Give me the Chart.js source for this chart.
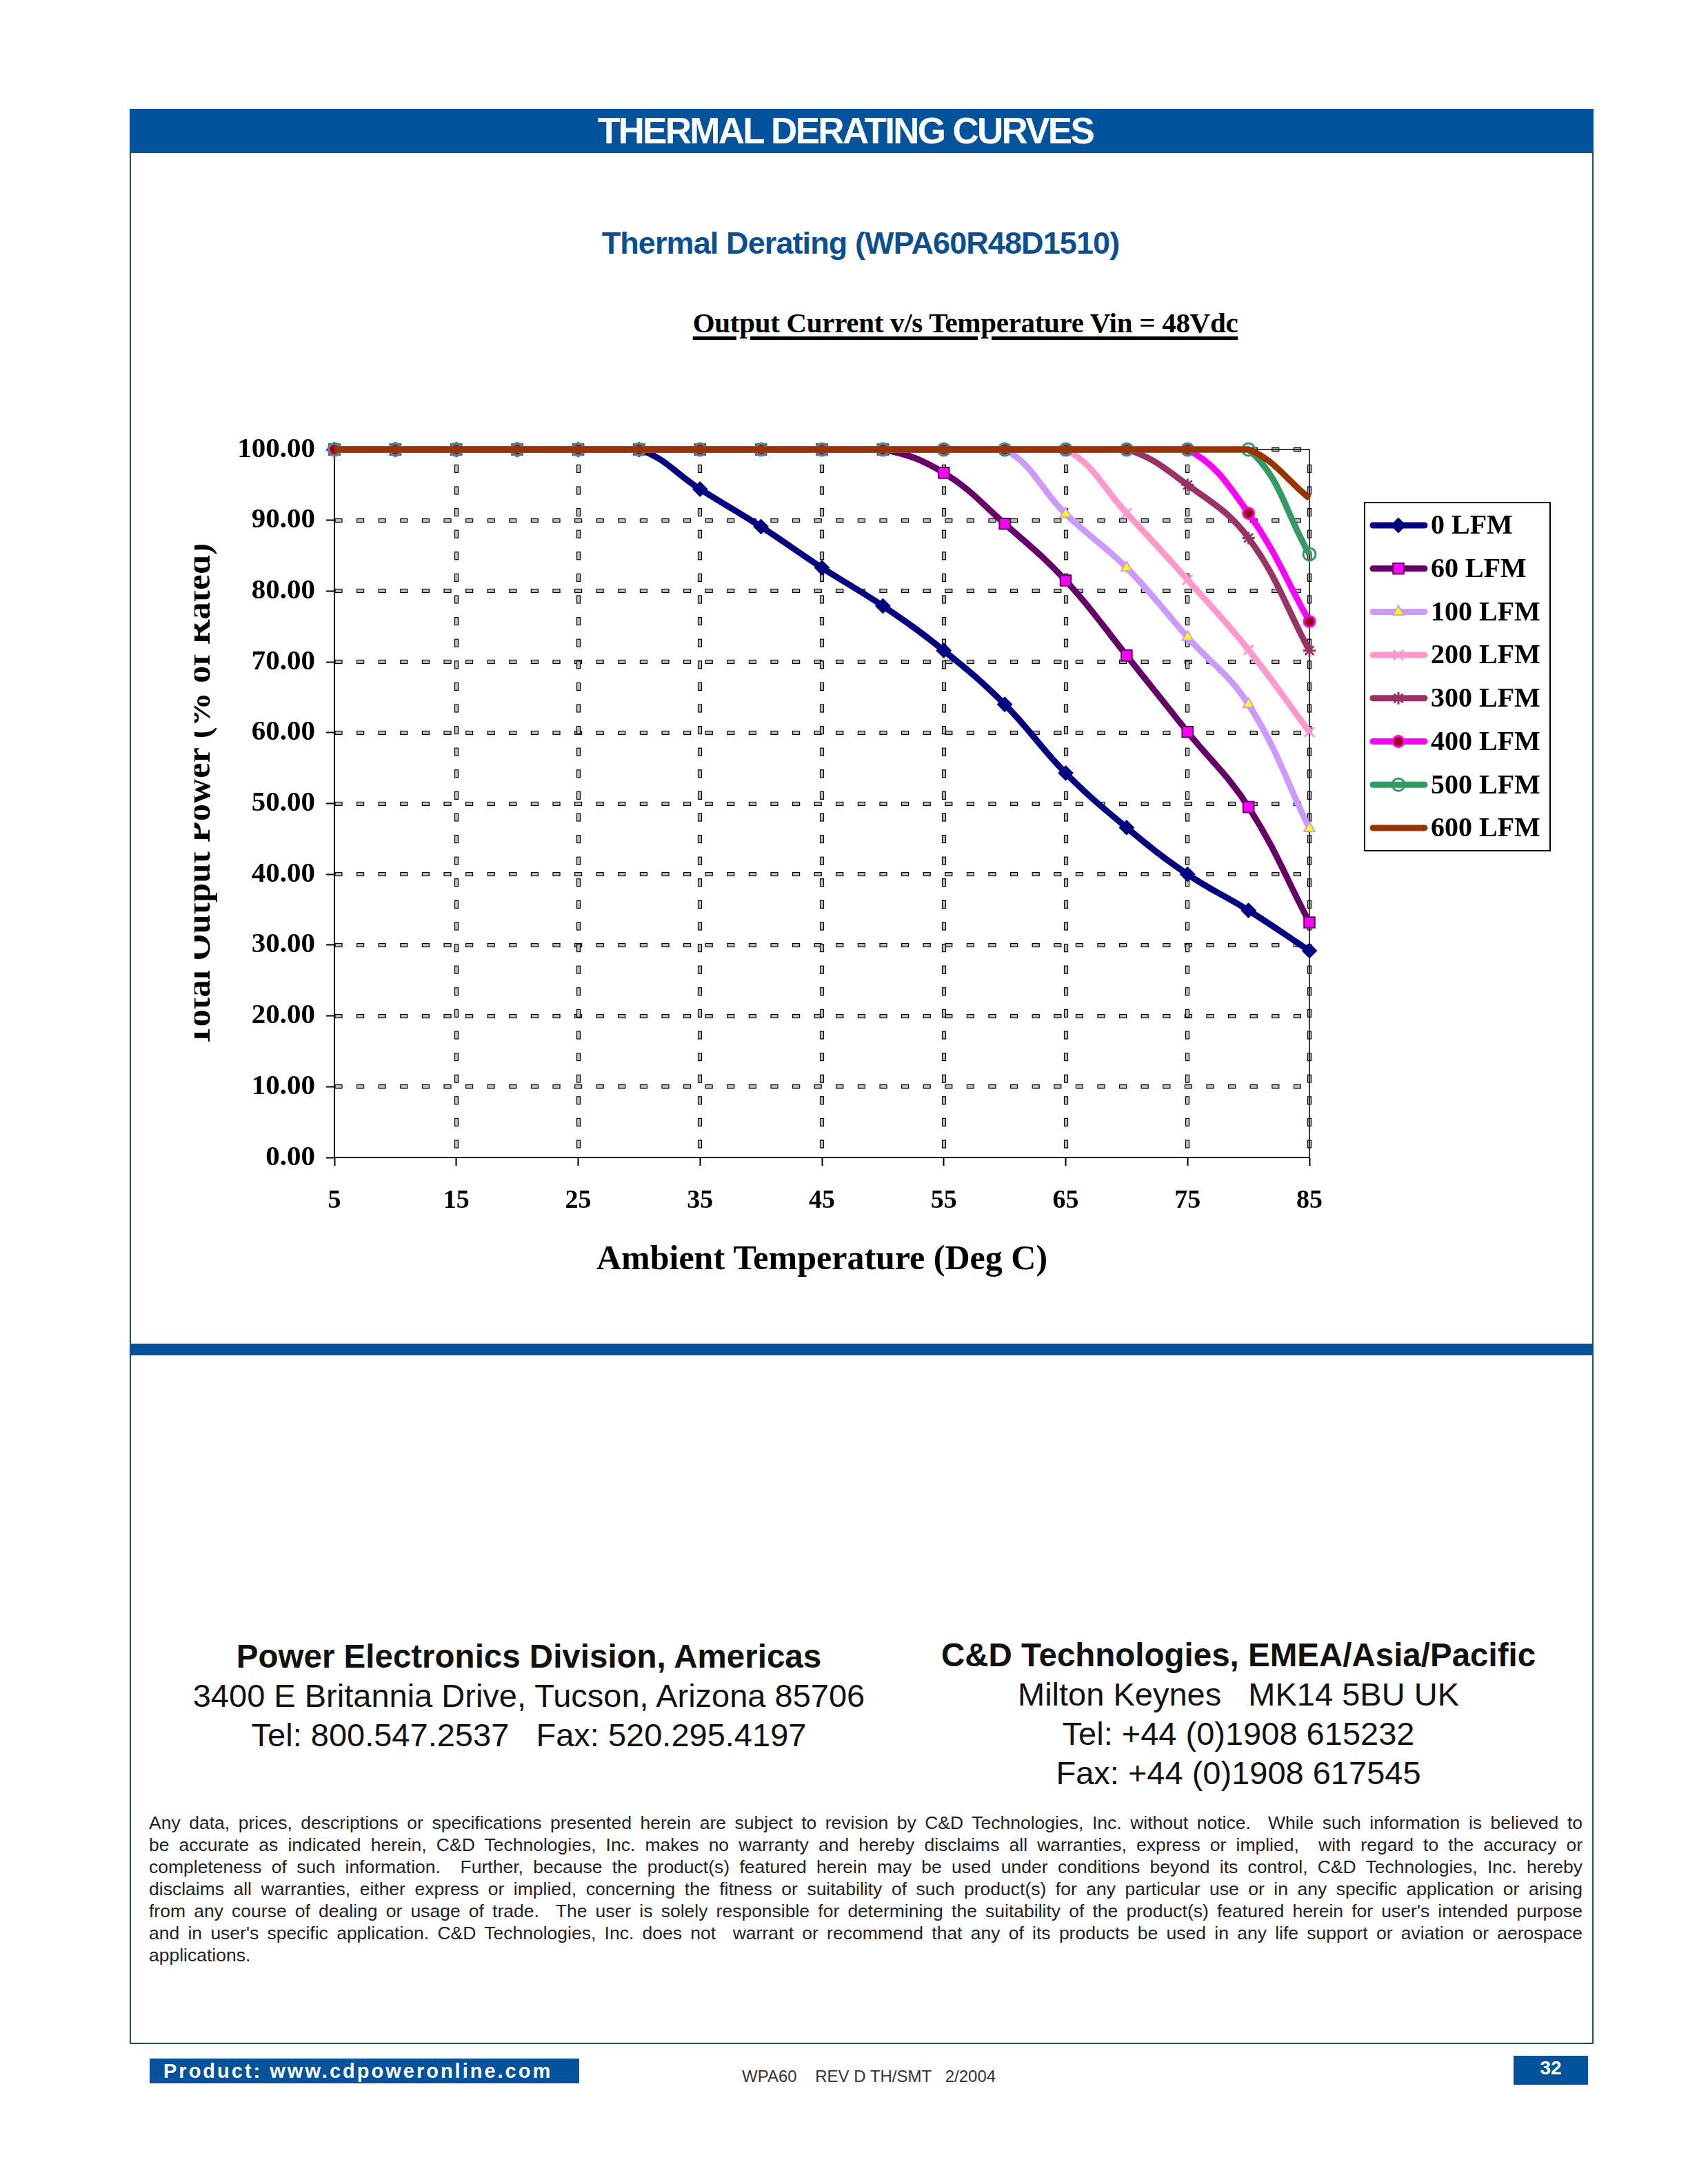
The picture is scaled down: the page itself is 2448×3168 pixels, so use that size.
<!DOCTYPE html>
<html>
<head>
<meta charset="utf-8">
<title>Thermal Derating Curves</title>
<script src="https://cdn.jsdelivr.net/npm/chart.js@4.4.1/dist/chart.umd.min.js"></script>
<style>
    html, body { margin: 0; padding: 0; background: #fff; }
    body { width: 2448px; height: 3168px; position: relative; overflow: hidden; font-family: "Liberation Sans", Arial, sans-serif; }
    .abs { position: absolute; }
    #frame { left: 188px; top: 158px; width: 2119px; height: 2803px; border: 2px solid #1d4f73; }
    #header { left: 188px; top: 158px; width: 2123px; height: 64px; background: #02529c; }
    #headerText { left: 0; width: 2452px; top: 158px; height: 64px; line-height: 64px; text-align: center; color: #fff; font-weight: bold; font-size: 53px; letter-spacing: -2.7px; }
    #subtitle { left: 0; width: 2496px; top: 323px; line-height: 60px; text-align: center; color: #0b4f93; font-weight: bold; font-size: 45px; letter-spacing: -0.9px; }
    #chartTitle { left: 0; width: 2800px; top: 440px; line-height: 56px; text-align: center; font-family: "Liberation Serif", "Times New Roman", serif; font-weight: bold; font-size: 41px; letter-spacing: -0.3px; text-decoration: underline; text-decoration-thickness: 5px; text-underline-offset: 6px; }
    #chartBox { left: 330px; top: 560px; width: 1970px; height: 1340px; }
    #yTitleClip { left: 282px; top: 700px; width: 60px; height: 900px; overflow: hidden; }
    #yTitle { left: -445px; top: 423px; width: 900px; height: 60px; line-height: 60px; text-align: center; white-space: nowrap; transform: rotate(-90deg); font-family: "Liberation Serif", "Times New Roman", serif; font-weight: bold; font-size: 50px; letter-spacing: 0.5px; }
    #sepBar { left: 190px; top: 1949px; width: 2119px; height: 17px; background: #02529c; }
    .addr { text-align: center; white-space: nowrap; color: #111; }
    .addr div { height: 57px; line-height: 57px; }
    .addr .b { font-weight: bold; font-size: 47.5px; }
    .addr .n { font-size: 47px; }
    #addrLeft { left: 267px; width: 1000px; top: 2374px; }
    #addrRight { left: 1296px; width: 1000px; top: 2372px; }
    #disclaimer { left: 216px; width: 2079px; top: 2628px; font-size: 26.5px; color: #222; }
    #disclaimer div { height: 32px; line-height: 32px; text-align: justify; text-align-last: justify; white-space: normal; }
    #disclaimer div.last { text-align-last: left; }
    #productBox { left: 217px; top: 2986px; width: 623px; height: 36px; background: #02529c; color: #fff; font-weight: bold; font-size: 29px; line-height: 36px; letter-spacing: 3px; text-indent: 20px; white-space: nowrap; }
    #rev { left: 1076px; top: 2997px; font-size: 24px; line-height: 30px; color: #333; white-space: pre; }
    #pageBox { left: 2195px; top: 2982px; width: 108px; height: 42px; background: #02529c; color: #fff; font-weight: bold; font-size: 28px; line-height: 36px; text-align: center; }
</style>
</head>
<body>
<div id="frame" class="abs"></div>
<div id="header" class="abs"></div>
<div id="headerText" class="abs">THERMAL DERATING CURVES</div>
<div id="subtitle" class="abs">Thermal Derating (WPA60R48D1510)</div>
<div id="chartTitle" class="abs">Output Current v/s Temperature Vin = 48Vdc</div>

<div id="chartBox" class="abs"><canvas id="deratingChart" width="1970" height="1340"></canvas></div>
<div id="yTitleClip" class="abs"><div id="yTitle" class="abs">Total Output Power (% of Rated)</div></div>

<div id="sepBar" class="abs"></div>

<div id="addrLeft" class="abs addr">
    <div class="b">Power Electronics Division, Americas</div>
    <div class="n">3400 E Britannia Drive, Tucson, Arizona 85706</div>
    <div class="n">Tel: 800.547.2537&nbsp;&nbsp; Fax: 520.295.4197</div>
</div>
<div id="addrRight" class="abs addr">
    <div class="b">C&amp;D Technologies, EMEA/Asia/Pacific</div>
    <div class="n">Milton Keynes&nbsp;&nbsp; MK14 5BU UK</div>
    <div class="n">Tel: +44 (0)1908 615232</div>
    <div class="n">Fax: +44 (0)1908 617545</div>
</div>

<div id="disclaimer" class="abs">
    <div>Any data, prices, descriptions or specifications presented herein are subject to revision by C&amp;D Technologies, Inc. without notice.&nbsp; While such information is believed to</div>
    <div>be accurate as indicated herein, C&amp;D Technologies, Inc. makes no warranty and hereby disclaims all warranties, express or implied,&nbsp; with regard to the accuracy or</div>
    <div>completeness of such information.&nbsp; Further, because the product(s) featured herein may be used under conditions beyond its control, C&amp;D Technologies, Inc. hereby</div>
    <div>disclaims all warranties, either express or implied, concerning the fitness or suitability of such product(s) for any particular use or in any specific application or arising</div>
    <div>from any course of dealing or usage of trade.&nbsp; The user is solely responsible for determining the suitability of the product(s) featured herein for user's intended purpose</div>
    <div>and in user's specific application. C&amp;D Technologies, Inc. does not&nbsp; warrant or recommend that any of its products be used in any life support or aviation or aerospace</div>
    <div class="last">applications.</div>
</div>

<div id="productBox" class="abs">Product: www.cdpoweronline.com</div>
<div id="rev" class="abs">WPA60    REV D TH/SMT   2/2004</div>
<div id="pageBox" class="abs">32</div>

<script>
// ambient temperature (deg C)
const temps = [5, 10, 15, 20, 25, 30, 35, 40, 45, 50, 55, 60, 65, 70, 75, 80, 85];

// total output power, % of rated, per airflow
const lfm0   = [100, 100, 100, 100, 100, 100, 94.4, 89.1, 83.3, 77.9, 71.6, 64.0, 54.3, 46.6, 40.0, 34.9, 29.2];
const lfm60  = [100, 100, 100, 100, 100, 100, 100, 100, 100, 100, 96.7, 89.5, 81.5, 70.9, 60.1, 49.5, 33.2];
const lfm100 = [100, 100, 100, 100, 100, 100, 100, 100, 100, 100, 100, 100, 90.9, 83.3, 73.5, 64.0, 46.5];
const lfm200 = [100, 100, 100, 100, 100, 100, 100, 100, 100, 100, 100, 100, 100, 91.0, 81.6, 71.7, 60.1];
const lfm300 = [100, 100, 100, 100, 100, 100, 100, 100, 100, 100, 100, 100, 100, 100, 95.0, 87.5, 71.6];
const lfm400 = [100, 100, 100, 100, 100, 100, 100, 100, 100, 100, 100, 100, 100, 100, 100, 91.0, 75.7];
const lfm500 = [100, 100, 100, 100, 100, 100, 100, 100, 100, 100, 100, 100, 100, 100, 100, 100, 85.2];
const lfm600 = [100, 100, 100, 100, 100, 100, 100, 100, 100, 100, 100, 100, 100, 100, 100, 100, 93.1];

const seriesNames = ['0 LFM', '60 LFM', '100 LFM', '200 LFM', '300 LFM', '400 LFM', '500 LFM', '600 LFM'];
const seriesValues = [lfm0, lfm60, lfm100, lfm200, lfm300, lfm400, lfm500, lfm600];

const xTicks = { min: 5, max: 85, step: 10 };
const yTicks = { min: 0, max: 100, step: 10 };

// line colour, marker style
const styles = [
    { line: '#000080', style: 'rectRot',  radius: 10, fill: '#000080', edge: '#000080', edgeWidth: 2 },
    { line: '#660066', style: 'rect',     radius: 11, fill: '#ff00ff', edge: '#660066', edgeWidth: 2 },
    { line: '#cc99ff', style: 'triangle', radius: 9,  fill: '#ffff00', edge: '#cc99ff', edgeWidth: 2 },
    { line: '#ff99cc', style: 'crossRot', radius: 10, fill: '#ff99cc', edge: '#ff99cc', edgeWidth: 3 },
    { line: '#993366', style: 'star',     radius: 9,  fill: '#993366', edge: '#993366', edgeWidth: 3 },
    { line: '#ff00ff', style: 'circle',   radius: 8,  fill: '#990000', edge: '#ff00ff', edgeWidth: 3 },
    { line: '#339966', style: 'circle',   radius: 9,  fill: 'rgba(0,0,0,0)', edge: '#339966', edgeWidth: 3 },
    { line: '#993300', style: 'circle',   radius: 0,  fill: '#993300', edge: '#993300', edgeWidth: 0 }
];

const serif = '"Liberation Serif", "Times New Roman", serif';

// dashed grid drawn as little outlined boxes like the original sheet
const dashGrid = {
    id: 'dashGrid',
    beforeDatasetsDraw(chart) {
        const { ctx, chartArea: a, scales: { x, y } } = chart;
        const period = 31.6;
        ctx.save();
        ctx.fillStyle = '#c0c0c0';
        ctx.strokeStyle = '#000';
        ctx.lineWidth = 1.2;
        y.ticks.forEach(t => {
            if (t.value === yTicks.min) return;
            const py = Math.round(y.getPixelForValue(t.value));
            for (let px = a.left + 1; px < a.right - 8; px += period) {
                ctx.fillRect(px, py - 2.5, 10, 5);
                ctx.strokeRect(px, py - 2.5, 10, 5);
            }
        });
        x.ticks.forEach(t => {
            if (t.value === xTicks.min) return;
            const px = Math.round(x.getPixelForValue(t.value));
            for (let py = a.bottom - 20; py > a.top + 2; py -= period) {
                ctx.fillRect(px - 2.5, py - 5, 5, 11);
                ctx.strokeRect(px - 2.5, py - 5, 5, 11);
            }
        });
        // thin top / right border of the plot area
        ctx.lineWidth = 1.5;
        ctx.beginPath();
        ctx.moveTo(a.left, a.top);
        ctx.lineTo(a.right, a.top);
        ctx.lineTo(a.right, a.bottom);
        ctx.stroke();
        ctx.restore();
    }
};

// boxed legend with line + marker samples
const legendBox = {
    id: 'legendBox',
    afterDraw(chart) {
        const ctx = chart.ctx;
        const x0 = 1649, y0 = 169, w = 269, h = 505;
        ctx.save();
        ctx.fillStyle = '#fff';
        ctx.fillRect(x0, y0, w, h);
        ctx.strokeStyle = '#000';
        ctx.lineWidth = 2;
        ctx.strokeRect(x0, y0, w, h);
        chart.data.datasets.forEach((ds, i) => {
            const yy = y0 + 33 + i * 62.7;
            ctx.strokeStyle = ds.borderColor;
            ctx.lineWidth = 9;
            ctx.lineCap = 'round';
            ctx.beginPath();
            ctx.moveTo(x0 + 12, yy);
            ctx.lineTo(x0 + 87, yy);
            ctx.stroke();
            if (ds.pointRadius > 0) {
                ctx.fillStyle = ds.pointBackgroundColor;
                ctx.strokeStyle = ds.pointBorderColor;
                ctx.lineWidth = ds.pointBorderWidth;
                ctx.lineCap = 'butt';
                Chart.helpers.drawPoint(ctx, { pointStyle: ds.pointStyle, radius: ds.pointRadius, borderWidth: ds.pointBorderWidth, rotation: 0 }, x0 + 49, yy);
            }
            ctx.fillStyle = '#000';
            ctx.font = 'bold 40px ' + serif;
            ctx.textBaseline = 'middle';
            ctx.textAlign = 'left';
            ctx.fillText(ds.label, x0 + 96, yy + 2);
        });
        ctx.restore();
    }
};

const datasets = seriesNames.map((name, i) => ({
    label: name,
    data: temps.map((t, k) => ({ x: t, y: seriesValues[i][k] })),
    borderColor: styles[i].line,
    borderWidth: 9,
    tension: 0.4,
    fill: false,
    clip: false,
    pointStyle: styles[i].style,
    pointRadius: styles[i].radius,
    pointBackgroundColor: styles[i].fill,
    pointBorderColor: styles[i].edge,
    pointBorderWidth: styles[i].edgeWidth,
    order: seriesNames.length - i
}));

new Chart(document.getElementById('deratingChart'), {
    type: 'line',
    data: { datasets: datasets },
    plugins: [dashGrid, legendBox],
    options: {
        responsive: false,
        animation: false,
        devicePixelRatio: 1,
        layout: { padding: { left: 0, right: 401, top: 92, bottom: 0 } },
        plugins: {
            legend: { display: false },
            tooltip: { enabled: false },
            title: { display: false }
        },
        scales: {
            x: {
                type: 'linear',
                min: xTicks.min,
                max: xTicks.max,
                afterFit: s => { s.height = 221; },
                ticks: {
                    stepSize: xTicks.step,
                    padding: 28,
                    color: '#000',
                    maxRotation: 0,
                    font: { family: serif, size: 38, weight: 'bold' }
                },
                grid: { drawOnChartArea: false, drawTicks: true, tickLength: 12, tickColor: '#000', tickWidth: 2 },
                border: { color: '#000', width: 2 },
                title: {
                    display: true,
                    text: 'Ambient Temperature (Deg C)',
                    color: '#000',
                    font: { family: serif, size: 50, weight: 'bold' },
                    padding: { bottom: 42 }
                }
            },
            y: {
                min: yTicks.min,
                max: yTicks.max,
                afterFit: s => { s.width = 155; },
                ticks: {
                    stepSize: yTicks.step,
                    padding: 16,
                    color: '#000',
                    font: { family: serif, size: 41, weight: 'bold' },
                    callback: v => v.toFixed(2)
                },
                grid: { drawOnChartArea: false, drawTicks: true, tickLength: 12, tickColor: '#000', tickWidth: 2 },
                border: { color: '#000', width: 2 }
            }
        }
    }
});
</script>
</body>
</html>
